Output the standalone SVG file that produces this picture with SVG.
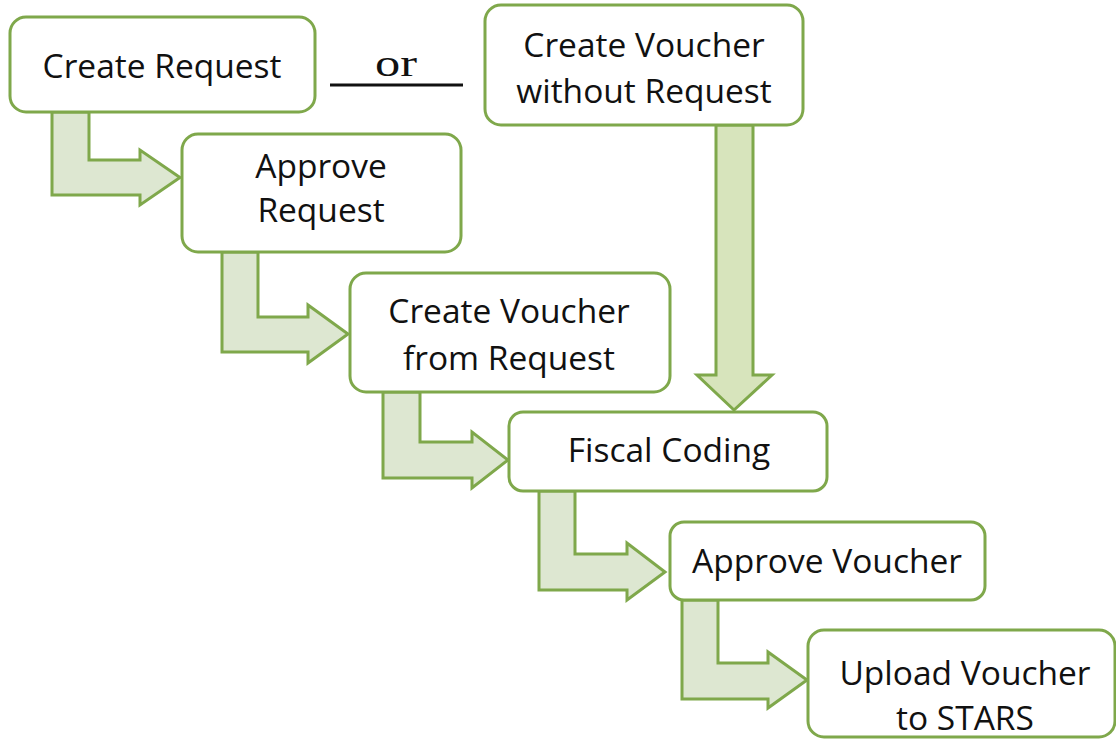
<svg xmlns="http://www.w3.org/2000/svg" width="1116" height="740" viewBox="0 0 1116 740">
<style>
.box{fill:#ffffff;stroke:#7FA84B;stroke-width:3}
.arr{fill:#DDE7D1;stroke:#7FA84B;stroke-width:3;stroke-linejoin:miter}
.varr{fill:#D7E4BC;stroke:#7FA84B;stroke-width:3}
.t{font-family:"Open Sans","Noto Sans",sans-serif;font-size:33.5px;fill:#111111;text-anchor:middle}
</style>
<rect width="1116" height="740" fill="#ffffff"/>
<g id="connectors">
<path class="arr" d="M52,112 L89,112 L89,160 L140,160 L140,150 L180,177.5 L140,205 L140,195 L52,195 Z"/>
<path class="arr" d="M222,252 L258,252 L258,317 L308,317 L308,305 L348,334 L308,363 L308,352 L222,352 Z"/>
<path class="arr" d="M383,392 L420,392 L420,442 L472,442 L472,432 L508,460 L472,488 L472,478 L383,478 Z"/>
<path class="arr" d="M539,491 L575,491 L575,554 L627,554 L627,543 L665,572 L627,600 L627,590 L539,590 Z"/>
<path class="arr" d="M682,600 L718,600 L718,663 L768,663 L768,652 L807,680 L768,708 L768,699 L682,699 Z"/>
<path class="varr" d="M716,125 L753,125 L753,375 L772,375 L734,410 L697,375 L716,375 Z"/>
</g>
<g id="or">
<text x="375" y="76" font-family="'Liberation Serif',serif" font-size="38" textLength="42" lengthAdjust="spacingAndGlyphs" fill="#111111">or</text>
<line x1="330" y1="85" x2="463" y2="85" stroke="#111111" stroke-width="3"/>
</g>
<g id="create-request">
<rect class="box" x="10" y="17" width="305" height="95" rx="16"/>
<text class="t" x="162" y="78">Create Request</text>
</g>
<g id="approve-request">
<rect class="box" x="182" y="134" width="279" height="118" rx="16"/>
<text class="t" x="321" y="178">Approve</text>
<text class="t" x="321" y="222">Request</text>
</g>
<g id="create-voucher-without-request">
<rect class="box" x="485" y="5" width="318" height="120" rx="16"/>
<text class="t" x="644" y="57">Create Voucher</text>
<text class="t" x="644" y="103">without Request</text>
</g>
<g id="create-voucher-from-request">
<rect class="box" x="350" y="273" width="320" height="119" rx="16"/>
<text class="t" x="509" y="323">Create Voucher</text>
<text class="t" x="509" y="370">from Request</text>
</g>
<g id="fiscal-coding">
<rect class="box" x="509" y="412" width="318" height="79" rx="14"/>
<text class="t" x="669" y="462">Fiscal Coding</text>
</g>
<g id="approve-voucher">
<rect class="box" x="670" y="522" width="315" height="78" rx="14"/>
<text class="t" x="827" y="573">Approve Voucher</text>
</g>
<g id="upload-voucher">
<rect class="box" x="808" y="630" width="307" height="107" rx="16"/>
<text class="t" x="965" y="685">Upload Voucher</text>
<text class="t" x="965" y="730">to STARS</text>
</g>
</svg>
